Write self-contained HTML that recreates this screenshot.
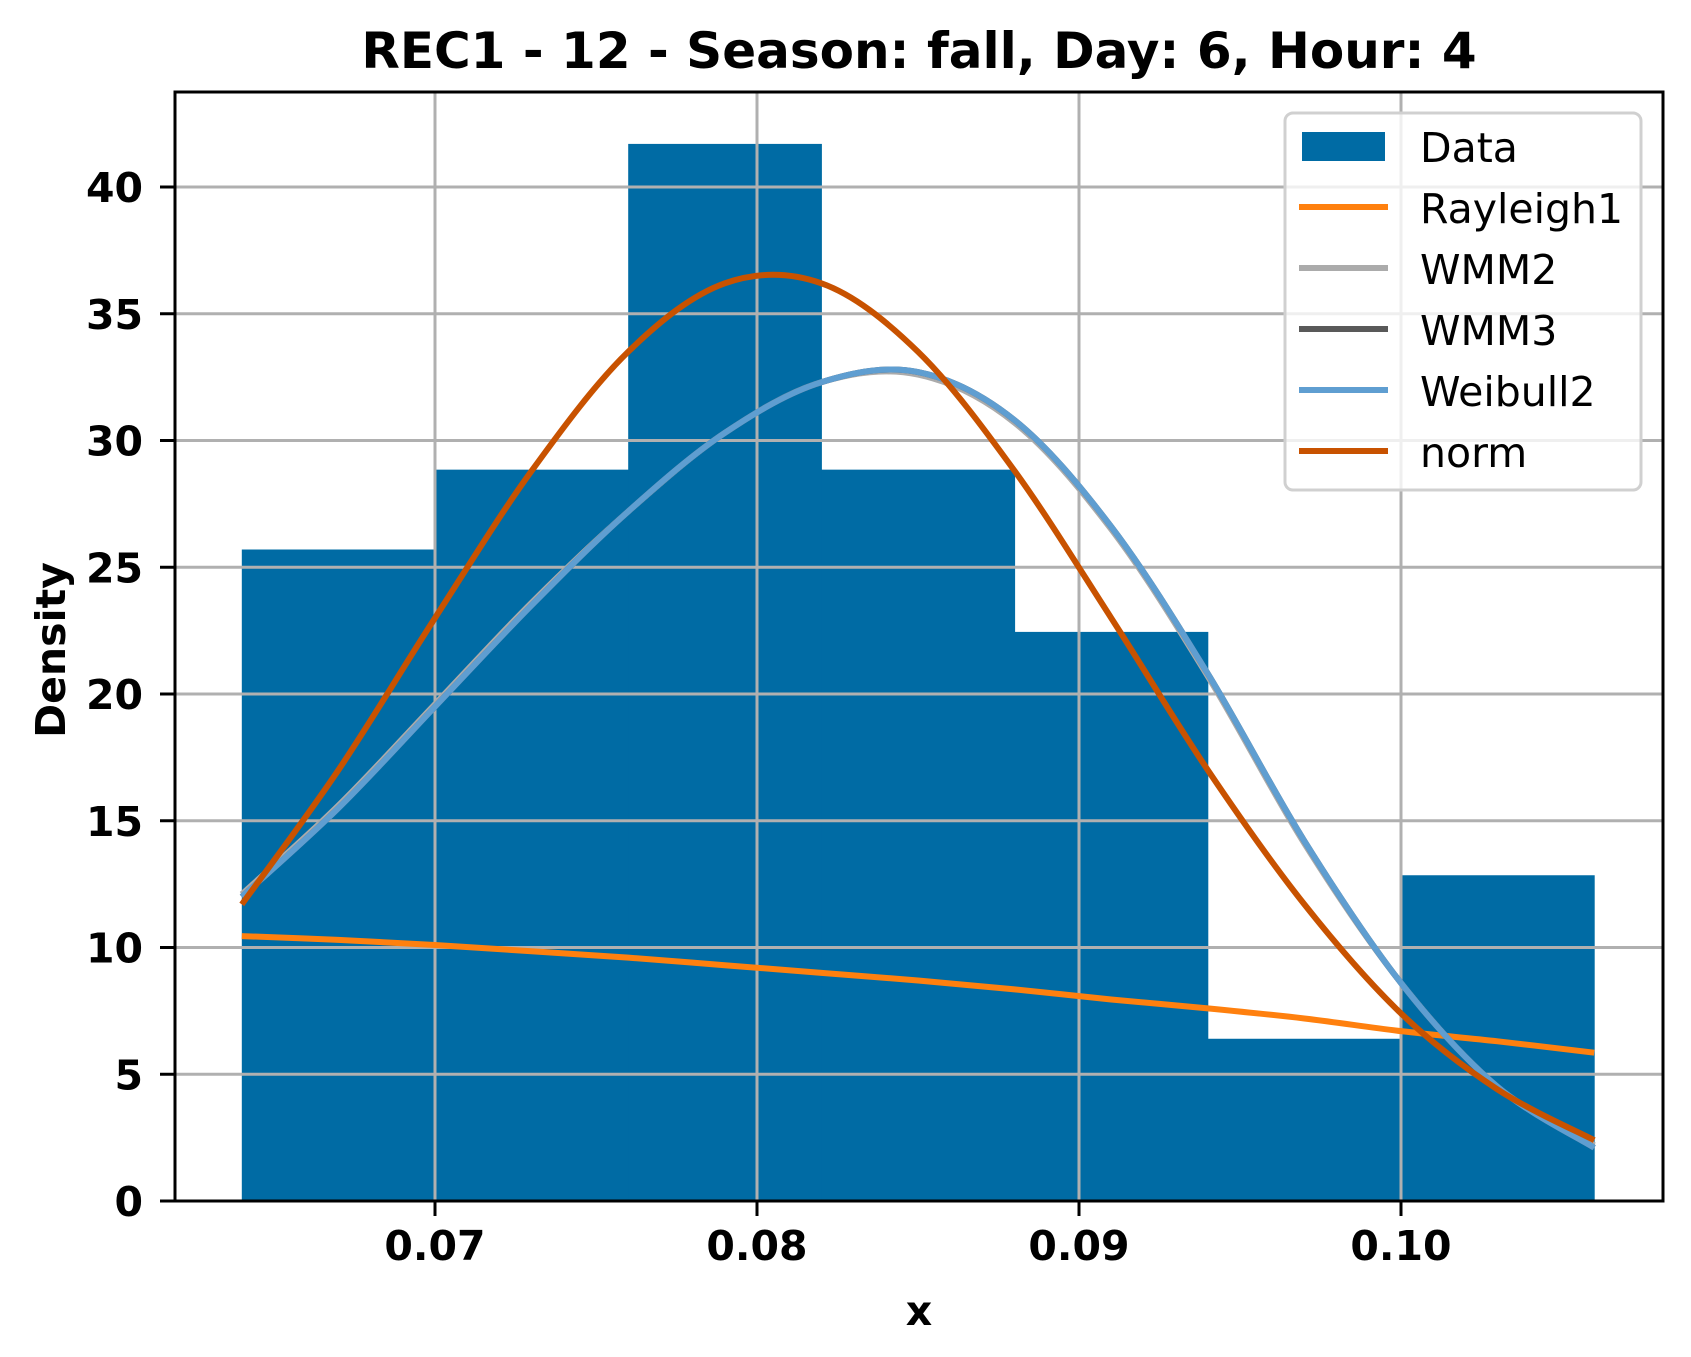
<!DOCTYPE html>
<html><head><meta charset="utf-8"><style>
html,body{margin:0;padding:0;background:#fff;}
svg{display:block;font-family:"DejaVu Sans","Liberation Sans",sans-serif;}
</style></head><body>
<svg id="chart" width="1691" height="1357" viewBox="0 0 1691 1357" xmlns="http://www.w3.org/2000/svg">
<rect width="1691" height="1357" fill="#fff"/>
<text x="919" y="68" text-anchor="middle" font-size="50" font-weight="bold">REC1 - 12 - Season: fall, Day: 6, Hour: 4</text>
<g id="bars"></g><g id="grid"></g><g id="curves"></g><g id="axes"></g>
<text x="919" y="1325" text-anchor="middle" font-size="41" font-weight="bold">x</text>
<text transform="translate(65,650) rotate(-90)" text-anchor="middle" font-size="41" font-weight="bold">Density</text>
<g id="legend"></g>
</svg>
<script>
const binEdges=[0.064,0.070,0.076,0.082,0.088,0.094,0.100,0.106];
const binHeights=[25.7,28.85,41.7,28.85,22.45,6.4,12.85];
const curveX=[0.064,0.067,0.070,0.073,0.076,0.079,0.082,0.085,0.088,0.091,0.094,0.097,0.100,0.103,0.106];
const rayleigh1=[10.45,10.3,10.1,9.85,9.6,9.3,9.0,8.7,8.35,7.95,7.6,7.2,6.7,6.3,5.85];
const wmm2=[12.1,15.6,19.6,23.6,27.2,30.3,32.3,32.6,30.7,26.5,20.7,14.1,8.6,4.5,2.2];
const wmm3=[12.0,15.5,19.5,23.5,27.2,30.3,32.3,32.7,30.8,26.6,20.8,14.2,8.6,4.5,2.1];
const weibull2=[12.0,15.5,19.5,23.5,27.2,30.3,32.3,32.7,30.8,26.6,20.8,14.2,8.6,4.5,2.1];
const norm=[11.7,17.0,23.0,28.8,33.5,36.2,36.2,33.5,28.8,23.0,17.0,11.7,7.4,4.4,2.4];
const xTicks=[0.07,0.08,0.09,0.10];
const xTickLabels=["0.07","0.08","0.09","0.10"];
const yTicks=[0,5,10,15,20,25,30,35,40];

const NS="http://www.w3.org/2000/svg";
const L=175,R=1663,T=92,B=1201;
function sx(v){return 435+(v-0.07)*32200;}
function sy(v){return 1201-v*25.35;}
function mk(tag,attrs,parent){const e=document.createElementNS(NS,tag);for(const k in attrs)e.setAttribute(k,attrs[k]);parent.appendChild(e);return e;}
const bars=document.getElementById('bars'),grid=document.getElementById('grid'),curves=document.getElementById('curves'),axes=document.getElementById('axes'),legend=document.getElementById('legend');
binHeights.forEach((h,i)=>{
  const r=mk('rect',{x:sx(binEdges[i]),y:sy(h),width:sx(binEdges[i+1])-sx(binEdges[i])+0.5,height:sy(0)-sy(h),fill:'#006BA4'},bars);
  
  
});
xTicks.forEach((t,i)=>{
  const g=mk('line',{x1:sx(t),x2:sx(t),y1:T,y2:B,stroke:'#b0b0b0','stroke-width':3},grid);
  
  
  const tk=mk('line',{x1:sx(t),x2:sx(t),y1:B,y2:B+15,stroke:'#000','stroke-width':3},axes);
  
  
  const tx=mk('text',{x:sx(t),y:1260,'text-anchor':'middle','font-size':41,'font-weight':'bold'},axes);
  tx.textContent=xTickLabels[i];
  
  
});
yTicks.forEach(t=>{
  const g=mk('line',{x1:L,x2:R,y1:sy(t),y2:sy(t),stroke:'#b0b0b0','stroke-width':3},grid);
  
  
  const tk=mk('line',{x1:L-15,x2:L,y1:sy(t),y2:sy(t),stroke:'#000','stroke-width':3},axes);
  
  
  const tx=mk('text',{x:143,y:sy(t)+15,'text-anchor':'end','font-size':41,'font-weight':'bold'},axes);
  tx.textContent=String(t);
  
  
});
const frame=mk('rect',{x:L,y:T,width:R-L,height:B-T,fill:'none',stroke:'#000','stroke-width':3},axes);


function pathFor(ys){
  const p=curveX.map((x,i)=>[sx(x),sy(ys[i])]);
  let d='M'+p[0][0]+','+p[0][1];
  for(let i=0;i<p.length-1;i++){
    const p0=p[Math.max(0,i-1)],p1=p[i],p2=p[i+1],p3=p[Math.min(p.length-1,i+2)];
    const c1=[p1[0]+(p2[0]-p0[0])/6,p1[1]+(p2[1]-p0[1])/6];
    const c2=[p2[0]-(p3[0]-p1[0])/6,p2[1]-(p3[1]-p1[1])/6];
    d+=' C'+c1[0]+','+c1[1]+' '+c2[0]+','+c2[1]+' '+p2[0]+','+p2[1];
  }
  return d;
}
const series=[['Rayleigh1',rayleigh1,'#FF800E','rayleigh1-line'],['WMM2',wmm2,'#ABABAB','wmm2-line'],['WMM3',wmm3,'#595959','wmm3-line'],['Weibull2',weibull2,'#5F9ED1','weibull2-line'],['norm',norm,'#C85200','norm-line']];
series.forEach(s=>{
  const p=mk('path',{d:pathFor(s[1]),fill:'none',stroke:s[2],'stroke-width':6,'stroke-linecap':'butt'},curves);
  
  
});
const lb=mk('rect',{x:1285,y:113,width:356,height:377,rx:8,fill:'rgba(255,255,255,0.8)',stroke:'#d0d0d0','stroke-width':3},legend);


const dp=mk('rect',{x:1302,y:132,width:83,height:29,fill:'#006BA4'},legend);


const dt=mk('text',{x:1420,y:162,'font-size':41},legend);
dt.textContent='Data';


series.forEach((s,i)=>{
  const y=207+i*61;
  const ln=mk('line',{x1:1299,x2:1388,y1:y,y2:y,stroke:s[2],'stroke-width':6},legend);
  
  
  const t=mk('text',{x:1420,y:y+16,'font-size':41},legend);
  t.textContent=s[0];
  
  
});
</script>
</body></html>
